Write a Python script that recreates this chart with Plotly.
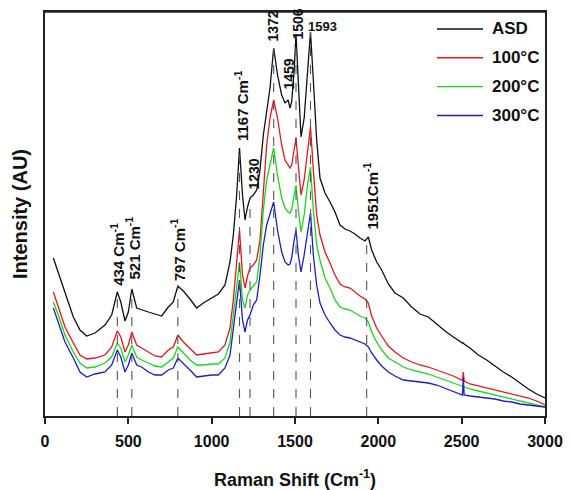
import numpy as np
import plotly.graph_objects as go

# Raman shift grid (cm^-1)
shift = [
    50, 80, 120, 170, 210, 250, 300, 360, 400, 434,
    455, 480, 500, 521, 550, 580, 620, 660, 700, 740,
    770, 797, 830, 870, 910, 950, 1000, 1040, 1080, 1110,
    1130, 1150, 1167, 1185, 1200, 1215, 1230, 1250, 1270, 1290,
    1310, 1330, 1350, 1372, 1395, 1420, 1440, 1459, 1470, 1480,
    1495, 1506, 1520, 1536, 1555, 1575, 1593, 1610, 1630, 1650,
    1680, 1710, 1740, 1770, 1800, 1830, 1860, 1890, 1920, 1940,
    1960, 1990, 2020, 2060, 2100, 2150, 2200, 2250, 2300, 2350,
    2400, 2450, 2500, 2505, 2510, 2515, 2550, 2600, 2650, 2700,
    2750, 2800, 2850, 2900, 2950, 3000,
]

asd = [
    158, 143, 123, 99, 86, 80, 83, 91, 101, 124,
    114, 95, 104, 127, 108, 106, 104, 102, 100, 109,
    114, 130, 125, 117, 108, 113, 118, 122, 131, 154,
    181, 221, 268, 221, 196, 209, 218, 221, 226, 246,
    281, 306, 328, 368, 341, 321, 313, 316, 308, 314,
    346, 382, 331, 279, 298, 341, 384, 336, 276, 238,
    223, 214, 204, 191, 187, 185, 182, 178, 175, 179,
    166, 154, 146, 132, 123, 118, 109, 102, 99, 92,
    85, 79, 73, 73, 73, 72, 68, 61, 56, 50,
    44, 39, 33, 27, 22, 18,
]

t100 = [
    124, 109, 89, 73, 61, 57, 58, 61, 69, 85,
    79, 64, 71, 84, 71, 68, 64, 60, 59, 66,
    69, 81, 74, 68, 61, 62, 63, 64, 71, 88,
    116, 154, 186, 141, 128, 140, 148, 151, 156, 176,
    221, 271, 298, 316, 298, 271, 256, 251, 248, 251,
    266, 278, 251, 221, 236, 266, 289, 246, 201, 181,
    164, 153, 141, 132, 129, 128, 124, 120, 117, 113,
    100, 88, 80, 70, 64, 58, 54, 51, 49, 46,
    43, 40, 36, 36, 44, 35, 32, 30, 28, 26,
    24, 22, 20, 18, 15, 11,
]

t200 = [
    114, 101, 81, 64, 53, 48, 49, 53, 59, 73,
    68, 54, 61, 71, 59, 56, 53, 50, 49, 54,
    58, 69, 63, 56, 51, 51, 52, 52, 58, 74,
    101, 131, 154, 116, 108, 121, 126, 130, 134, 161,
    206, 236, 251, 268, 241, 218, 208, 204, 203, 206,
    221, 231, 206, 184, 201, 231, 249, 206, 171, 156,
    138, 128, 116, 109, 107, 106, 103, 100, 98, 94,
    84, 74, 66, 58, 54, 49, 46, 44, 42, 39,
    36, 33, 30, 30, 29, 29, 27, 25, 23, 21,
    19, 17, 15, 13, 11, 9,
]

t300 = [
    108, 94, 74, 58, 44, 39, 42, 44, 51, 66,
    59, 44, 51, 63, 51, 49, 44, 41, 41, 46,
    48, 58, 53, 46, 39, 40, 41, 41, 48, 61,
    86, 116, 136, 96, 84, 96, 101, 111, 116, 141,
    171, 191, 201, 214, 186, 164, 154, 151, 152, 158,
    176, 186, 161, 144, 161, 186, 203, 161, 131, 113,
    101, 93, 86, 81, 79, 78, 76, 74, 72, 69,
    63, 56, 50, 44, 40, 36, 35, 34, 33, 31,
    28, 25, 22, 21, 38, 21, 20, 19, 18, 17,
    15, 14, 12, 11, 10, 9,
]

series_names = ["ASD", "100°C", "200°C", "300°C"]
series_colors = ["#111111", "#e8161c", "#18d818", "#1c1ccc"]

# marked peaks: dashed line positions, label text, label position
peak_pos = [434, 521, 797, 1167, 1230, 1372, 1506, 1593, 1930]
label_text = ["434 Cm<sup>-1</sup>", "521 Cm<sup>-1</sup>", "797 Cm<sup>-1</sup>",
              "1167 Cm<sup>-1</sup>", "1230", "1372", "1459", "1506", "1593",
              "1951Cm<sup>-1</sup>"]
label_x = [434, 528, 797, 1176, 1248, 1362, 1458, 1512, 1662, 1956]
label_y = [128, 134, 133, 273, 224, 372, 324, 374, 390, 184]
label_angle = [-90, -90, -90, -90, -90, -90, -90, -90, 0, -90]
label_size = [15, 15, 15, 15, 14, 14, 14, 14, 13, 15]

xticks = [0, 500, 1000, 1500, 2000, 2500, 3000]

assert all(len(s) == len(shift) for s in (asd, t100, t200, t300))

FONT = "Liberation Sans, Arial, Helvetica, sans-serif"
fig = go.Figure()

for name, ys, col in zip(series_names, [asd, t100, t200, t300], series_colors):
    fig.add_trace(go.Scatter(x=shift, y=ys, mode="lines", name=name,
                             showlegend=False,
                             line=dict(color=col, width=1.3)))

for p in peak_pos:
    top = float(np.interp(p, shift, asd))
    fig.add_trace(go.Scatter(x=[p, p], y=[0, top], mode="lines", showlegend=False,
                             hoverinfo="skip",
                             line=dict(color="#555555", width=1.1, dash="dash")))

for txt, lx, ly, ang, fs in zip(label_text, label_x, label_y, label_angle, label_size):
    fig.add_annotation(x=lx, y=ly, text=txt, showarrow=False, textangle=ang,
                       xanchor="center",
                       yanchor="bottom" if ang else "middle",
                       font=dict(family=FONT, size=fs, color="#111111", weight="bold"))

# legend (line sample + label), drawn inside the plot frame at top right
leg_top, leg_step = 0.958, 0.0714
for k, (name, col) in enumerate(zip(series_names, series_colors)):
    yy = leg_top - k * leg_step
    fig.add_shape(type="line", xref="paper", yref="paper",
                  x0=0.784, x1=0.876, y0=yy, y1=yy,
                  line=dict(color=col, width=1.4))
    fig.add_annotation(xref="paper", yref="paper", x=0.89, y=yy, text=name,
                       showarrow=False, xanchor="left", yanchor="middle",
                       font=dict(family=FONT, size=17, color="#111111", weight="bold"))

# top edge of the frame
fig.add_shape(type="line", xref="paper", yref="paper", x0=0, x1=1, y0=1, y1=1,
              line=dict(color="#222222", width=1.5), layer="above")

fig.update_layout(
    width=571, height=490,
    margin=dict(l=45, r=26, t=12, b=74),
    paper_bgcolor="white", plot_bgcolor="white",
    font=dict(family=FONT, color="#111111"),
    showlegend=False,
    xaxis=dict(range=[0, 3000], tickvals=xticks, ticks="outside", ticklen=6,
               tickwidth=1.5, tickcolor="#222222", automargin=False,
               ticklabelstandoff=4,
               showline=True, linecolor="#222222", linewidth=1.5, mirror=True,
               showgrid=False, zeroline=False,
               tickfont=dict(family=FONT, size=16, color="#111111", weight="bold"),
               title=dict(text="Raman Shift (Cm<sup>-1</sup>)", standoff=27,
                          font=dict(family=FONT, size=18, color="#111111", weight="bold"))),
    yaxis=dict(range=[0, 404], showticklabels=False, ticks="", automargin=False,
               showline=True, linecolor="#222222", linewidth=1.5, mirror=True,
               showgrid=False, zeroline=False,
               title=dict(text="Intensity (AU)", standoff=10,
                          font=dict(family=FONT, size=20, color="#111111", weight="bold"))),
)

# remove the default 8px page margin so the figure sits at the window's top-left corner
fig.write_html("out.html", config={"displayModeBar": False},
               post_script="document.body.style.margin='0px';document.body.style.overflow='hidden';")
